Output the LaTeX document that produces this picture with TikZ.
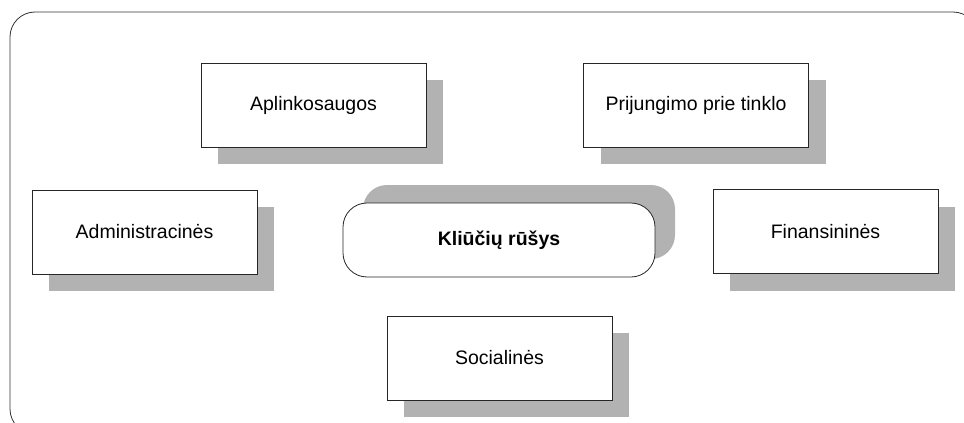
\documentclass[tikz,border=0pt]{standalone}
\usepackage{fontspec}
\setmainfont{Liberation Sans}
\usetikzlibrary{shadows}

\begin{document}
\begin{tikzpicture}[x=1pt,y=-1pt]
    \tikzstyle{every node}+=[font=\fontsize{19.5}{23}\selectfont, text=black]
    \tikzstyle{kind}=[draw=black!85, line width=0.8pt, fill=white, minimum width=225pt, minimum height=84pt, drop shadow={shadow xshift=17pt, shadow yshift=-17pt, fill=black!30, opacity=1}]
    \tikzstyle{hub}=[draw=black!85, line width=0.8pt, fill=white, rounded corners=24pt, minimum width=312pt, minimum height=74pt, drop shadow={shadow xshift=20pt, shadow yshift=18pt, fill=black!30, opacity=1}]
    \useasboundingbox (0,0) rectangle (964,423);
    \clip (0,0) rectangle (964,423);
    % frame
    \draw [black!80, line width=0.8pt, rounded corners=25pt] (10,12) rectangle (978,434);
    % centre
    \node [hub] (rusys) at (499,240) {\textbf{Kliūčių rūšys}};
    % kinds
    \node [kind] (aplink) at (313.5,105) {Aplinkosaugos};
    \node [kind] (prijung) at (696,105) {Prijungimo prie tinklo};
    \node [kind] (admin) at (144.5,232) {Administracinės};
    \node [kind] (finans) at (825.5,231.5) {Finansininės};
    \node [kind] (social) at (499.5,358) {Socialinės};
\end{tikzpicture}
\end{document}
